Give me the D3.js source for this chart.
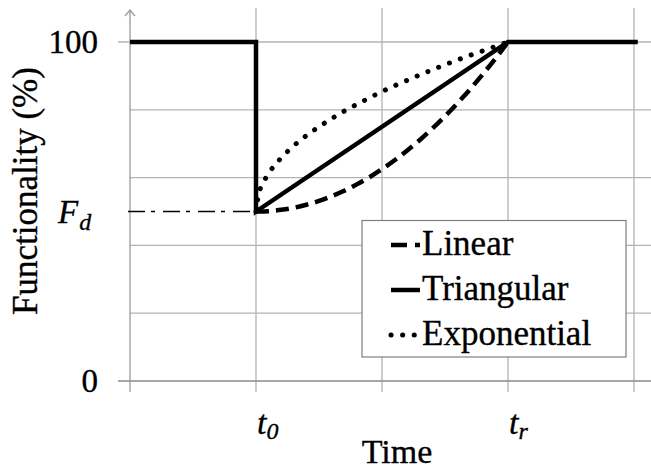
<!DOCTYPE html>
<html>
<head>
<meta charset="utf-8">
<script src="https://cdn.jsdelivr.net/npm/d3@7/dist/d3.min.js"></script>
<style>
  html, body { margin: 0; padding: 0; background: #fff; }
  svg { display: block; }
  text { stroke: #000; stroke-width: 0.35px; fill: #000; }
</style>
</head>
<body>
<svg id="chart" width="651" height="470"></svg>
<script>
// ---------- data ----------
const gridTimes = [0, 1, 2, 3, 4];
const gridValues = [0, 20, 40, 60, 80, 100];
const yTickValues = [0, 100];
const yTickLabels = ["0", "100"];
const fdValue = 50;                       // F_d level
const xTickValues = [1, 3];               // t0, tr
const xTickMain = ["t", "t"];
const xTickSub = ["0", "r"];

// Triangular (solid) – step down at t0, straight recovery to tr
const triTime   = [0, 1, 1, 3, 4.03];
const triValues = [100, 100, 50, 100, 100];

const curveTime = [1, 1.02, 1.05, 1.1, 1.2, 1.3, 1.4, 1.5, 1.6, 1.7, 1.8, 1.9, 2.0,
                   2.1, 2.2, 2.3, 2.4, 2.5, 2.6, 2.7, 2.8, 2.9, 3.0];
const linearValues = [50, 50, 50, 50.1, 50.5, 51.1, 52, 53.1, 54.5, 56.1, 58, 60.1, 62.5,
                      65.1, 68, 71.1, 74.5, 78.1, 82, 86.1, 90.5, 95.1, 100];
const expValues    = [50, 55, 57.9, 61.2, 65.8, 69.4, 72.4, 75, 77.4, 79.6, 81.6, 83.5, 85.4,
                      87.1, 88.7, 90.3, 91.8, 93.3, 94.7, 96.1, 97.4, 98.7, 100];

const legendNames = ["Linear", "Triangular", "Exponential"];

// ---------- scales ----------
const FONT = "'Liberation Serif', 'Times New Roman', 'DejaVu Serif', serif";
const svg = d3.select("#chart").attr("font-family", FONT);
const x = d3.scaleLinear().domain([0, 4]).range([130, 634]);
const y = d3.scaleLinear().domain([0, 100]).range([381, 42]);
const xRight = 651;
const gridTop = 8, tickBottom = 392;

const gridColor = "#b3b3b3";

// vertical gridlines (also x tick marks below the axis)
svg.append("g").selectAll("line").data(gridTimes.slice(1)).join("line")
  .attr("x1", d => x(d)).attr("x2", d => x(d))
  .attr("y1", gridTop).attr("y2", tickBottom)
  .attr("stroke", gridColor).attr("stroke-width", 1.3);

// horizontal gridlines
svg.append("g").selectAll("line").data(gridValues.filter(v => v !== 0)).join("line")
  .attr("x1", d => yTickValues.includes(d) ? 118 : x(0)).attr("x2", xRight)
  .attr("y1", d => y(d)).attr("y2", d => y(d))
  .attr("stroke", gridColor).attr("stroke-width", 1.3);

// x axis (0 line)
svg.append("line")
  .attr("x1", 118).attr("x2", xRight).attr("y1", y(0)).attr("y2", y(0))
  .attr("stroke", "#8a8a8a").attr("stroke-width", 1.6);

// y axis with arrow
svg.append("line")
  .attr("x1", x(0)).attr("x2", x(0)).attr("y1", 10).attr("y2", tickBottom)
  .attr("stroke", "#9a9a9a").attr("stroke-width", 1.3);
svg.append("path")
  .attr("d", `M${x(0) - 5},16 L${x(0)},10 L${x(0) + 5},16`)
  .attr("fill", "none").attr("stroke", "#9a9a9a").attr("stroke-width", 1.2);

// y tick labels
svg.append("g").selectAll("text").data(yTickValues).join("text")
  .attr("font-family", FONT)
  .attr("x", 98).attr("y", d => y(d) + 11)
  .attr("text-anchor", "end").attr("font-size", 33)
  .text((d, i) => yTickLabels[i]);

// F_d label
const fd = svg.append("text").attr("font-family", FONT).attr("x", 58).attr("y", y(fdValue) + 11)
  .attr("font-size", 33).attr("font-style", "italic");
fd.append("tspan").text("F");
fd.append("tspan").attr("font-size", 24).attr("dy", 7).attr("dx", 1).text("d");

// F_d dash-dot guide
svg.append("line")
  .attr("x1", 128).attr("x2", x(1)).attr("y1", y(fdValue)).attr("y2", y(fdValue))
  .attr("stroke", "#000").attr("stroke-width", 1.6)
  .attr("stroke-dasharray", "17,6,4,8");

// x tick labels
xTickValues.forEach((v, i) => {
  const t = svg.append("text").attr("font-family", FONT).attr("x", x(v) + 1).attr("y", 434)
    .attr("font-size", 34).attr("font-style", "italic");
  t.append("tspan").text(xTickMain[i]);
  t.append("tspan").attr("font-size", 24).attr("dy", 5).text(xTickSub[i]);
});

// axis titles
svg.append("text").attr("font-family", FONT).attr("x", 397).attr("y", 463).attr("text-anchor", "middle")
  .attr("font-size", 34).text("Time");
svg.append("text").attr("font-family", FONT).attr("transform", `translate(37,191) rotate(-90)`)
  .attr("text-anchor", "middle").attr("font-size", 35).text("Functionality (%)");

// ---------- series ----------
const line = d3.line().x(d => x(d[0])).y(d => y(d[1]));
const smooth = d3.line().x(d => x(d[0])).y(d => y(d[1])).curve(d3.curveMonotoneX);

const styles = {
  Linear:      { dash: "13,7", cap: "butt", width: 4.5 },
  Triangular:  { dash: null, cap: "butt", width: 4.5 },
  Exponential: { dash: "0.1,11.5", cap: "round", width: 5 }
};

svg.append("path")
  .datum(curveTime.map((t, i) => [t, linearValues[i]]))
  .attr("d", smooth).attr("fill", "none").attr("stroke", "#000")
  .attr("stroke-width", styles.Linear.width).attr("stroke-dasharray", styles.Linear.dash)
  .attr("stroke-linecap", styles.Linear.cap);

svg.append("path")
  .datum(curveTime.map((t, i) => [t, expValues[i]]))
  .attr("d", smooth).attr("fill", "none").attr("stroke", "#000")
  .attr("stroke-width", styles.Exponential.width).attr("stroke-dasharray", styles.Exponential.dash)
  .attr("stroke-linecap", styles.Exponential.cap);

svg.append("path")
  .datum(triTime.map((t, i) => [t, triValues[i]]))
  .attr("d", line).attr("fill", "none").attr("stroke", "#000")
  .attr("stroke-width", styles.Triangular.width).attr("stroke-linejoin", "miter");

// ---------- legend ----------
const lg = svg.append("g");
lg.append("rect").attr("x", 362).attr("y", 220.5).attr("width", 264).attr("height", 136.5)
  .attr("fill", "#fff").attr("stroke", "#7f7f7f").attr("stroke-width", 1.2);
const legendBase = [255, 300, 345];
legendNames.forEach((name, i) => {
  const st = styles[name];
  lg.append("line").attr("x1", 391).attr("x2", 420)
    .attr("y1", legendBase[i] - 10).attr("y2", legendBase[i] - 10)
    .attr("stroke", "#000").attr("stroke-width", st.width)
    .attr("stroke-dasharray", name === "Linear" ? "16,8" : st.dash)
    .attr("stroke-linecap", st.cap);
  lg.append("text").attr("font-family", FONT).attr("x", 422).attr("y", legendBase[i])
    .attr("font-size", 35).text(name);
});
</script>
</body>
</html>
